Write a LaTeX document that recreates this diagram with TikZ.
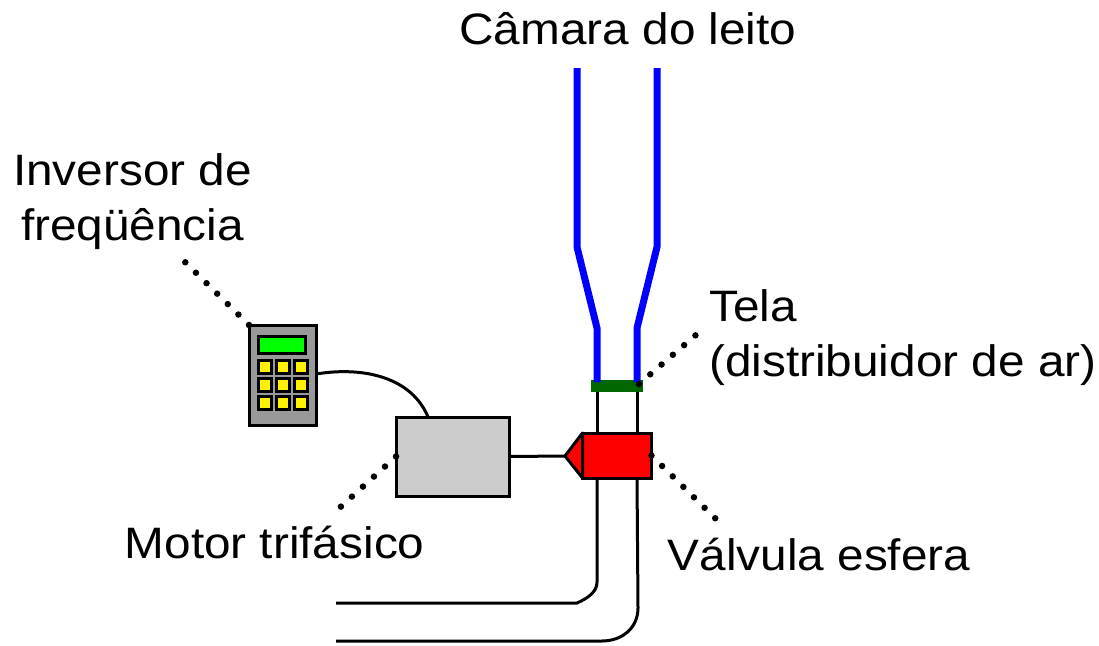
\documentclass[tikz,border=0pt]{standalone}
\usepackage{fontspec}
\setmainfont[FakeStretch=1.085]{Liberation Sans}
\usetikzlibrary{positioning}

\begin{document}
\begin{tikzpicture}[
  x=1pt, y=-1pt,
  font=\fontsize{44}{55}\selectfont,
  lbl/.style     ={inner sep=0pt, align=center},
  chan/.style    ={draw=blue, line width=7pt, line join=miter},
  pipe/.style    ={draw=black, line width=3pt},
  lead/.style    ={draw=black, line width=6.5pt, line cap=round, dash pattern=on 0pt off 14.9pt},
  box/.style     ={rectangle, draw=black, line width=3pt, outer sep=0pt, inner sep=0pt},
  motorbox/.style={box, fill=black!20, minimum width=113pt, minimum height=79pt},
  valvebox/.style={box, fill=red, minimum width=69pt, minimum height=45pt},
  invbox/.style  ={box, fill=black!40, minimum width=67pt, minimum height=100pt},
  dispbox/.style ={box, fill=green, minimum width=47pt, minimum height=17pt},
  keybox/.style  ={box, fill=yellow, minimum size=13pt},
  screenbar/.style={rectangle, fill=green!40!black, minimum width=52pt, minimum height=12pt, outer sep=0pt, inner sep=0pt}
]
\useasboundingbox (0,0) rectangle (1099,645);

% ---- free ends ----
\coordinate (chanL) at (597,382);
\coordinate (chanR) at (637,382);
\coordinate (lowL)  at (336,603);
\coordinate (lowR)  at (336,641);
\coordinate (dotInv) at (185,262);
\coordinate (dotTela) at (697,334);
\coordinate (dotTelaS) at (639,384);
\coordinate (dotValv) at (716,519);
\coordinate (dotMot) at (335,512);
\coordinate (head) at (565,456);

% ---- main parts ----
\node[screenbar] (screen) at (617,386) {};
\node[valvebox]  (valve)  at (617,455.5) {};
\node[motorbox]  (motor)  at (452.5,456.5) {};
\node[invbox]    (inv)    at (282.5,375) {};
\node[dispbox]   (disp)   at (282,344.5) {};

% ---- keys ----
\foreach \i/\kx in {1/264.5, 2/283, 3/301}
  \foreach \j/\ky in {1/367, 2/385, 3/403}
    \node[keybox] (key\i\j) at (\kx,\ky) {};

% ---- labels ----
\node[lbl, anchor=base] (camara) at (628,44) {Câmara do leito};
\node[lbl] (inversor) at (132.5,201.5) {Inversor de\\freqüência};
\node[lbl, align=left, anchor=west] (tela) at (709,337.5) {Tela\\(distribuidor de ar)};
\node[lbl, anchor=base west] (mottxt) at (124.5,558) {Motor trifásico};
\node[lbl, anchor=base west] (valvtxt) at (667.5,570) {Válvula esfera};

% ---- channel ----
\draw[chan] (577,68) -- (577,247) -- (597,328) -- (chanL);
\draw[chan] (657,68) -- (657,247) -- (637,328) -- (chanR);

% ---- pipes ----
\draw[pipe] (screen.south -| chanL) -- (valve.north -| chanL);
\draw[pipe] (screen.south -| chanR) -- (valve.north -| chanR);
\draw[pipe] (valve.south -| chanL) -- (597,582) .. controls (597,592) and (588,598) .. (577,603) -- (lowL);
\draw[pipe] (valve.south -| chanR) -- (638,608) .. controls (638,628) and (622,641) .. (602,641) -- (lowR);

% ---- valve head and cables ----
\draw[box, fill=red, line join=round] (valve.north west) -- (head) -- (valve.south west) -- cycle;
\draw[pipe] (motor.east) -- (head);
\draw[pipe] (inv.east |- 0,374) .. controls (365,366) and (412,378) .. (428,417);

% ---- dotted leads ----
\draw[lead] (inv.north west) -- (dotInv);
\draw[lead] (motor.west) -- (dotMot);
\draw[lead] (valve.east) -- (dotValv);
\draw[lead] (dotTelaS) -- (dotTela);

\end{tikzpicture}
\end{document}
